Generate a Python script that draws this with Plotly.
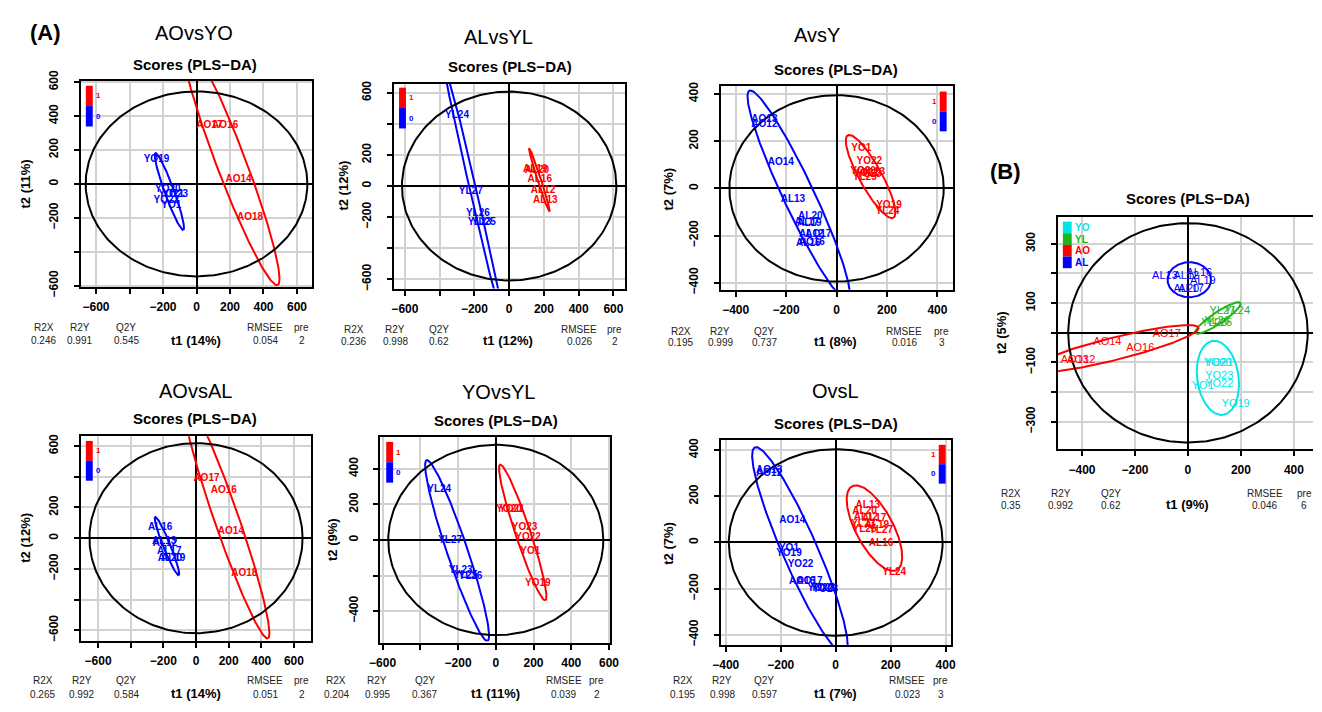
import numpy as np
import plotly.graph_objects as go

W, H = 1322, 712
FONT = "Liberation Sans, Arial, sans-serif"

# ---------------- score data (t1, t2) per comparison ----------------
# AOvsYO
aovsyo_labels = ["AO17", "AO16", "AO14", "AO18", "YO19", "YO20", "YO21", "YO23", "YO22", "YO1"]
aovsyo_t1 = [77, 171, 251, 320, -239, -171, -150, -127, -180, -151]
aovsyo_t2 = [343, 343, 25, -196, 143, -34, -60, -63, -95, -130]
aovsyo_class = ["1", "1", "1", "1", "0", "0", "0", "0", "0", "0"]
# group, centre t1, centre t2, semi-major, semi-minor, angle (deg)
aovsyo_ellipses = [("1", 205, 129, 777, 87, -68.95), ("0", -162, -45, 241, 28, -69.8),
                   ("T2", 0, 0, 662, 545, 0)]
aovsyo_stats = [0.246, 0.991, 0.545, 0.054, 2]
aovsyo_var = [14, 11]

# ALvsYL
alvsyl_labels = ["AL19", "AL20", "AL16", "AL12", "AL13", "YL24", "YL27", "YL26", "YL25", "YL23"]
alvsyl_t1 = [150, 160, 176, 195, 208, -300, -221, -180, -146, -170]
alvsyl_t2 = [108, 100, 40, -29, -96, 456, -33, -179, -237, -237]
alvsyl_class = ["1", "1", "1", "1", "1", "0", "0", "0", "0", "0"]
alvsyl_ellipses = [("1", 174, 38, 212, 10, -74), ("0", -203, -46, 900, 18, -78.4),
                   ("T2", 0, 0, 617, 608, 0)]
alvsyl_stats = [0.236, 0.998, 0.62, 0.026, 2]
alvsyl_var = [12, 12]

# AvsY
avsy_labels = ["AO13", "AO12", "AO14", "AL13", "AL20", "AL17", "AL19", "AO17", "AL12", "AO16", "AL16",
               "YO1", "YO22", "YO20", "YO21", "YL23", "YO23", "YL25", "YO19", "YL24"]
avsy_t1 = [-286, -286, -221, -173, -104, -118, -108, -72, -100, -98, -112,
           98, 130, 105, 118, 145, 128, 112, 208, 202]
avsy_t2 = [290, 271, 109, -47, -120, -146, -150, -194, -196, -228, -232,
           170, 113, 70, 65, 68, 60, 45, -73, -98]
avsy_class = ["0"] * 11 + ["1"] * 9
avsy_ellipses = [("0", -150, -30, 485, 62, -66.3), ("1", 135, 50, 197, 45, -62.9),
                 ("T2", 0, 0, 425, 395, 0)]
avsy_stats = [0.195, 0.999, 0.737, 0.016, 3]
avsy_var = [8, 7]

# AOvsAL
aovsal_labels = ["AO17", "AO16", "AO14", "AO18", "AL16", "AL13", "AL12", "AL17", "AL20", "AL19"]
aovsal_t1 = [64, 170, 214, 296, -220, -195, -190, -164, -160, -140]
aovsal_t2 = [389, 312, 42, -232, 67, -20, -36, -84, -130, -135]
aovsal_class = ["1", "1", "1", "1", "0", "0", "0", "0", "0", "0"]
aovsal_ellipses = [("1", 186, 128, 821, 75, -72), ("0", -178, -52, 203, 22, -69.2),
                   ("T2", 0, 0, 653, 619, 0)]
aovsal_stats = [0.265, 0.992, 0.584, 0.051, 2]
aovsal_var = [14, 12]

# YOvsYL
yovsyl_labels = ["YO20", "YO21", "YO23", "YO22", "YO1", "YO19", "YL24", "YL27", "YL23", "YL25", "YL26"]
yovsyl_t1 = [70, 85, 153, 171, 183, 223, -300, -242, -186, -160, -134]
yovsyl_t2 = [172, 169, 69, 15, -65, -245, 282, -5, -173, -200, -204]
yovsyl_class = ["1"] * 6 + ["0"] * 5
yovsyl_ellipses = [("1", 143, 42, 400, 40, -72.6), ("0", -205, -59, 533, 55, -72.4),
                   ("T2", 0, 0, 570, 535, 0)]
yovsyl_stats = [0.204, 0.995, 0.367, 0.039, 2]
yovsyl_var = [11, 9]

# OvsL
ovsl_labels = ["AO13", "AO12", "AO14", "YO1", "YO19", "YO22", "AO16", "AO17", "YO20", "YO21", "YO23",
               "AL13", "AL20", "AL12", "AL17", "YL23", "AL19", "YL25", "YL27", "AL16", "YL24"]
ovsl_t1 = [-242, -242, -158, -170, -170, -128, -122, -95, -56, -45, -38,
           117, 105, 110, 140, 100, 150, 105, 165, 165, 213]
ovsl_t2 = [312, 298, 97, -27, -49, -94, -167, -167, -199, -199, -205,
           161, 134, 110, 105, 78, 75, 55, 50, -3, -130]
ovsl_class = ["0"] * 11 + ["1"] * 10
ovsl_ellipses = [("0", -130, -35, 476, 65, -70), ("1", 141, 62, 199, 70, -67),
                 ("T2", 0, 0, 389, 404, 0)]
ovsl_stats = [0.195, 0.998, 0.597, 0.023, 3]
ovsl_var = [7, 7]

# four groups together
all_labels = ["AL13", "AL12", "AL16", "AL19", "AL20", "AL17",
              "YL27", "YL24", "YL23", "YL25", "YL26",
              "AO17", "AO14", "AO16", "AO12", "AO13",
              "YO20", "YO21", "YO23", "YO22", "YO1", "YO19"]
all_t1 = [-87, -6, 43, 56, -6, 12,
          130, 186, 99, 118, 110,
          -80, -304, -180, -403, -427,
          112, 118, 118, 118, 56, 180]
all_t2 = [191, 191, 200, 174, 147, 147,
          73, 73, 33, 33, 40,
          -5, -33, -51, -91, -91,
          -101, -101, -147, -172, -180, -240]
all_class = ["AL"] * 6 + ["YL"] * 5 + ["AO"] * 5 + ["YO"] * 6
all_ellipses = [("AL", 5, 179, 82, 59, 0), ("YL", 113, 50, 99, 20, 30.5),
                ("AO", -279, -54, 327, 38, 12.5), ("YO", 113, -152, 126, 78, -80),
                ("T2", 0, 0, 452, 370, 0)]
all_stats = [0.35, 0.992, 0.62, 0.046, 6]
all_var = [9, 5]

STAT_NAMES = ["R2X", "R2Y", "Q2Y", "RMSEE", "pre"]
COLORS = {"1": "#ff0000", "0": "#0000ff", "T2": "#000000",
          "YO": "#00e6e6", "YL": "#1eb41e", "AO": "#ff0000", "AL": "#0000ff"}


def ellipse_xy(cx, cy, a, b, ang):
    th = np.linspace(0, 2 * np.pi, 241)
    r = np.deg2rad(ang)
    ex, ey = a * np.cos(th), b * np.sin(th)
    return cx + ex * np.cos(r) - ey * np.sin(r), cy + ex * np.sin(r) + ey * np.cos(r)


def fmt(v):
    return str(v).replace("-", "\u2212")


def steps(lo, hi, step):
    return [v for v in range(-1200, 1201, step) if lo <= v <= hi]


# panel layout: frame in pixels (left, right, top, bottom)
panels = [
    dict(name="AOvsYO", lab=aovsyo_labels, t1=aovsyo_t1, t2=aovsyo_t2, cls=aovsyo_class,
         ell=aovsyo_ellipses, stats=aovsyo_stats, var=aovsyo_var,
         frame=(70.7, 306, 71.7, 284.3), xr=(-692, 692), yr=(-607, 609),
         xstep=200, ystep=200, xshow=[-600, -200, 0, 200, 400, 600], yshow=[600, 400, 200, 0, -200, -600],
         title=(186, 23), scores=(187, 55), ytitle=(15, 178),
         statx=[33, 70, 117, 188, 258, 295], staty=(326, 340),
         legend=(76, 83, 77, 119), key_side="right"),
    dict(name="ALvsYL", lab=alvsyl_labels, t1=alvsyl_t1, t2=alvsyl_t2, cls=alvsyl_class,
         ell=alvsyl_ellipses, stats=alvsyl_stats, var=alvsyl_var,
         frame=(389, 623.3, 75, 286), xr=(-662, 666), yr=(-660, 658),
         xstep=200, ystep=200, xshow=[-600, -200, 0, 200, 400, 600], yshow=[600, 200, 0, -200, -600],
         title=(495, 27), scores=(507, 57), ytitle=(338, 180),
         statx=[348, 390, 435, 505, 577, 613], staty=(328, 341),
         legend=(394, 401, 79, 121), key_side="right"),
    dict(name="AvsY", lab=avsy_labels, t1=avsy_t1, t2=avsy_t2, cls=avsy_class,
         ell=avsy_ellipses, stats=avsy_stats, var=avsy_var,
         frame=(720.7, 956, 77.7, 287.3), xr=(-459, 460), yr=(-430, 432),
         xstep=200, ystep=200, xshow=[-400, -200, 0, 200, 400], yshow=[400, 200, 0, -200, -400],
         title=(818, 25), scores=(838, 60), ytitle=(668, 183),
         statx=[680, 720, 765, 837, 907, 945], staty=(330, 342),
         legend=(943, 950, 83, 124), key_side="left"),
    dict(name="AOvsAL", lab=aovsal_labels, t1=aovsal_t1, t2=aovsal_t2, cls=aovsal_class,
         ell=aovsal_ellipses, stats=aovsal_stats, var=aovsal_var,
         frame=(70.7, 305, 438.3, 649), xr=(-707, 707), yr=(-669, 663),
         xstep=200, ystep=200, xshow=[-600, -200, 0, 200, 400, 600], yshow=[600, 200, 0, -200, -600],
         title=(187, 392), scores=(187, 420), ytitle=(15, 543),
         statx=[32, 72, 117, 188, 258, 295], staty=(690, 704),
         legend=(76, 83, 443, 484), key_side="right"),
    dict(name="YOvsYL", lab=yovsyl_labels, t1=yovsyl_t1, t2=yovsyl_t2, cls=yovsyl_class,
         ell=yovsyl_ellipses, stats=yovsyl_stats, var=yovsyl_var,
         frame=(375, 608.3, 439.3, 651), xr=(-612, 606), yr=(-578, 577),
         xstep=200, ystep=200, xshow=[-600, -200, 0, 200, 400, 600], yshow=[400, 200, 0, -400],
         title=(495, 393), scores=(492, 422), ytitle=(327, 545),
         statx=[330, 372, 420, 492, 561, 595], staty=(690, 704),
         legend=(381, 388, 444, 486), key_side="right"),
    dict(name="OvsL", lab=ovsl_labels, t1=ovsl_t1, t2=ovsl_t2, cls=ovsl_class,
         ell=ovsl_ellipses, stats=ovsl_stats, var=ovsl_var,
         frame=(720.7, 954, 441.7, 653.3), xr=(-418, 418), yr=(-444, 445),
         xstep=200, ystep=200, xshow=[-400, -200, 0, 200, 400], yshow=[400, 200, 0, -200, -400],
         title=(837, 392), scores=(838, 425), ytitle=(668, 548),
         statx=[682, 722, 765, 837, 910, 944], staty=(690, 704),
         legend=(942, 949, 447, 487), key_side="left"),
    dict(name=None, lab=all_labels, t1=all_t1, t2=all_t2, cls=all_class,
         ell=all_ellipses, stats=all_stats, var=all_var,
         frame=(1062.7, 1322, 212.7, 451.7), xr=(-492, 472), yr=(-393, 389),
         xstep=200, ystep=100, xshow=[-400, -200, 0, 200, 400], yshow=[300, 100, -100, -300],
         title=None, scores=(1195, 193), ytitle=(1005, 331),
         statx=[1015, 1066, 1117, 1195, 1273, 1313], staty=(497, 510),
         legend=(1068, 1077, 217, 265), key_side="groups"),
]

fig = go.Figure()
annotations = []
shapes = []
layout_axes = {}


def ann(text, x, y, size, bold=False, color="black", angle=0, xanchor="center"):
    annotations.append(dict(
        text=text, x=x / W, y=1 - y / H, xref="paper", yref="paper", showarrow=False,
        xanchor=xanchor, yanchor="middle", textangle=angle,
        font=dict(family=FONT, size=size, color=color, weight="bold" if bold else "normal")))


for i, p in enumerate(panels, start=1):
    s = "" if i == 1 else str(i)
    xa, ya = "x" + s, "y" + s
    left, right, top, bottom = p["frame"]
    last = p["name"] is None

    for grp, cx, cy, a, b, ang in p["ell"]:
        ex, ey = ellipse_xy(cx, cy, a, b, ang)
        fig.add_trace(go.Scatter(x=ex, y=ey, mode="lines", xaxis=xa, yaxis=ya,
                                 line=dict(color=COLORS[grp], width=2), hoverinfo="skip"))
    for grp in dict.fromkeys(p["cls"]):
        idx = [k for k, c in enumerate(p["cls"]) if c == grp]
        fig.add_trace(go.Scatter(
            x=[p["t1"][k] for k in idx], y=[p["t2"][k] for k in idx],
            text=[p["lab"][k] for k in idx], mode="text", xaxis=xa, yaxis=ya,
            textfont=dict(family=FONT, size=11 if last else 10, color=COLORS[grp],
                          weight="normal" if last else "bold")))

    xt = steps(*p["xr"], p["xstep"])
    yt = steps(*p["yr"], p["ystep"])
    common = dict(showgrid=True, gridcolor="#d2d2d2", gridwidth=2,
                  zeroline=True, zerolinecolor="black", zerolinewidth=1.6,
                  showline=True, linecolor="black", linewidth=2,
                  ticks="outside", ticklen=5, tickwidth=1.5, tickcolor="black",
                  tickfont=dict(family=FONT, size=12, color="black", weight="bold"))
    layout_axes["xaxis" + s] = dict(
        common, domain=[left / W, min(right / W, 1.0)], range=list(p["xr"]), anchor=ya,
        tickvals=xt, ticktext=[fmt(v) if v in p["xshow"] else "" for v in xt],
        mirror=True, ticklabelstandoff=3)
    layout_axes["yaxis" + s] = dict(
        common, domain=[1 - bottom / H, 1 - top / H], range=list(p["yr"]), anchor=xa,
        tickvals=yt, ticktext=[fmt(v) if v in p["yshow"] else "" for v in yt],
        mirror=not last, tickangle=-90, ticklabelstandoff=11)

    # titles
    if p["name"]:
        ann(p["name"], *p["title"], 20)
    ann("Scores (PLS\u2212DA)", *p["scores"], 15, bold=True)
    ann(f"t2 ({p['var'][1]}%)", *p["ytitle"], 13, bold=True, angle=-90)

    # model summary under the plot
    sx = p["statx"]
    ly, vy = p["staty"]
    for name, val, x in zip(STAT_NAMES, p["stats"], [sx[0], sx[1], sx[2], sx[4], sx[5]]):
        ann(name, x, ly, 10, color="#222222")
        ann(str(val), x, vy, 10, color="#222222")
    ann(f"t1 ({p['var'][0]}%)", sx[3], vy - 1, 13, bold=True)

    # colour key
    l0, l1, t0, t1_ = p["legend"]
    side = p["key_side"]
    if side == "groups":
        keys = ["YO", "YL", "AO", "AL"]
        h = (t1_ - t0) / len(keys)
        for k, key in enumerate(keys):
            shapes.append(dict(type="rect", xref="paper", yref="paper",
                               x0=l0 / W, x1=l1 / W, y0=1 - (t0 + (k + 1) * h) / H,
                               y1=1 - (t0 + k * h) / H, fillcolor=COLORS[key], line=dict(width=0)))
            ann(key, l1 + 1, t0 + (k + 0.5) * h, 10, bold=True, color=COLORS[key], xanchor="left")
    else:
        mid = (t0 + t1_) / 2
        for key, y0, y1 in (("1", t0, mid), ("0", mid, t1_)):
            shapes.append(dict(type="rect", xref="paper", yref="paper",
                               x0=l0 / W, x1=l1 / W, y0=1 - y1 / H, y1=1 - y0 / H,
                               fillcolor=COLORS[key], line=dict(width=0)))
            if side == "right":
                ann(key, l1 + 1, (y0 + y1) / 2, 8, bold=True, color=COLORS[key], xanchor="left")
            else:
                ann(key, l0 - 1, (y0 + y1) / 2, 8, bold=True, color=COLORS[key], xanchor="right")

ann("(A)", 35, 22, 22, bold=True)
ann("(B)", 1010, 165, 22, bold=True)

fig.update_layout(
    width=W, height=H, margin=dict(l=0, r=0, t=0, b=0),
    paper_bgcolor="white", plot_bgcolor="white", showlegend=False,
    font=dict(family=FONT, color="black"),
    annotations=annotations, shapes=shapes, **layout_axes)

fig.write_html("out.html")
